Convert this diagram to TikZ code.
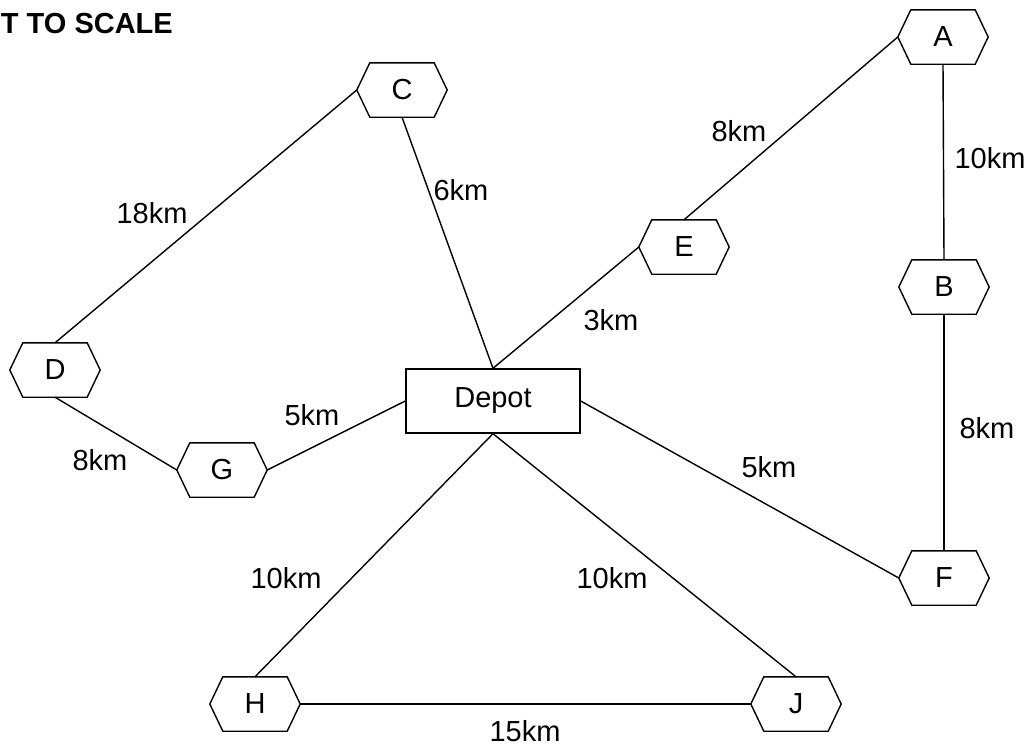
\documentclass[tikz,border=0pt]{standalone}
\usepackage{fontspec}
\setmainfont{Liberation Sans}
\tikzset{
  every node/.style={font=\fontsize{29pt}{34pt}\selectfont},
  wire/.style={line width=1.4pt},
  hexnode/.style={minimum width=90pt, minimum height=54pt, inner sep=0pt,
    append after command={\pgfextra{
      \draw[wire, fill=white] ([xshift=13pt]\tikzlastnode.north west)
        -- ([xshift=-13pt]\tikzlastnode.north east) -- (\tikzlastnode.east)
        -- ([xshift=-13pt]\tikzlastnode.south east)
        -- ([xshift=13pt]\tikzlastnode.south west) -- (\tikzlastnode.west) -- cycle;}}},
  boxnode/.style={draw, wire, minimum width=174pt, minimum height=64pt, inner sep=0pt},
  dist/.style={inner sep=0pt}
}
\begin{document}
\begin{tikzpicture}[x=1pt, y=-1pt]
  \useasboundingbox (0,0) rectangle (1025,747);

  % stops and depot
  \node[boxnode] (depot) at (493,401) {Depot};
  \node[hexnode] (A) at (943,37)  {A};
  \node[hexnode] (B) at (944,287) {B};
  \node[hexnode] (C) at (402,90)  {C};
  \node[hexnode] (D) at (55,370)  {D};
  \node[hexnode] (E) at (684,247) {E};
  \node[hexnode] (F) at (944,578) {F};
  \node[hexnode] (G) at (222,470) {G};
  \node[hexnode] (H) at (255,704) {H};
  \node[hexnode] (J) at (796,704) {J};

  % roads
  \draw[wire] (D.north) -- (C.west);
  \draw[wire] (C.south) -- (depot.north);
  \draw[wire] (E.west) -- (depot.north);
  \draw[wire] (A.west) -- (E.north);
  \draw[wire] (A.south) -- (B.north);
  \draw[wire] (B.south) -- (F.north);
  \draw[wire] (D.south) -- (G.west);
  \draw[wire] (G.east) -- (depot.west);
  \draw[wire] (depot.east) -- (F.west);
  \draw[wire] (depot.south) -- (H.north);
  \draw[wire] (depot.south) -- (J.north);
  \draw[wire] (H.east) -- (J.west);

  % distances
  \node[dist] (dCD) at (152,213) {18km};
  \node[dist] (dCdep) at (461,190) {6km};
  \node[dist] (dAE) at (739,131) {8km};
  \node[dist] (dAB) at (990,158) {10km};
  \node[dist] (dEdep) at (611,320) {3km};
  \node[dist] (dGdep) at (312,415) {5km};
  \node[dist] (dDG) at (100,460) {8km};
  \node[dist] (dFdep) at (769,467) {5km};
  \node[dist] (dBF) at (987,428) {8km};
  \node[dist] (dHdep) at (286,578) {10km};
  \node[dist] (dJdep) at (612,578) {10km};
  \node[dist] (dHJ) at (525,731) {15km};

  % heading
  \node[anchor=east, inner sep=0pt, font=\fontsize{29pt}{34pt}\selectfont\bfseries] (title) at (173,24) {T TO SCALE};
\end{tikzpicture}
\end{document}
